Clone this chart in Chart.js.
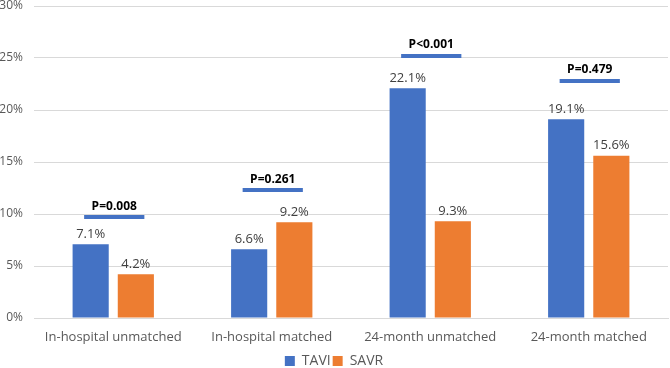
<!DOCTYPE html>
<html lang="en">
<head>
    <meta charset="UTF-8">
    <title>TAVI vs SAVR</title>
    <style>
        html, body {
            margin: 0;
            padding: 0;
            background: #fff;
        }

        .chart-container {
            width: 670px;
            height: 368px;
        }
    </style>
</head>
<body>
    <div class="chart-container">
        <canvas id="myChart"></canvas>
    </div>

    <script src="https://cdn.jsdelivr.net/npm/chart.js"></script>
    <script>
        // chart data
        const categories = ['In-hospital unmatched', 'In-hospital matched', '24-month unmatched', '24-month matched'];
        const taviValues = [7.1, 6.6, 22.1, 19.1];
        const savrValues = [4.2, 9.2, 9.3, 15.6];
        const pTexts = ['P=0.008', 'P=0.261', 'P<0.001', 'P=0.479'];
        const pLevels = [9.7, 12.3, 25.2, 22.8];   // height of the p-value bar, in %
        const yTicks = [0, 5, 10, 15, 20, 25, 30];

        const fontName = "'Open Sans', 'Liberation Sans', sans-serif";

        // value labels above each bar
        const valueLabels = {
            id: 'valueLabels',
            afterDatasetsDraw(chart) {
                const ctx = chart.ctx;
                ctx.save();
                ctx.font = '13px ' + fontName;
                ctx.fillStyle = '#404040';
                ctx.textAlign = 'center';
                ctx.textBaseline = 'middle';
                chart.data.datasets.forEach((ds, i) => {
                    chart.getDatasetMeta(i).data.forEach((bar, j) => {
                        ctx.fillText(ds.data[j].toFixed(1) + '%', bar.x, bar.y - 10);
                    });
                });
                ctx.restore();
            }
        };

        // p-value markers above each group
        const pMarkers = {
            id: 'pMarkers',
            afterDatasetsDraw(chart) {
                const ctx = chart.ctx;
                const xScale = chart.scales.x;
                const yScale = chart.scales.y;
                const half = xScale.width / categories.length * 0.19;
                ctx.save();
                pLevels.forEach((level, i) => {
                    const x = xScale.getPixelForValue(i) + 1;
                    const y = yScale.getPixelForValue(level);
                    ctx.strokeStyle = '#4472C4';
                    ctx.lineWidth = 4;
                    ctx.beginPath();
                    ctx.moveTo(x - half, y);
                    ctx.lineTo(x + half, y);
                    ctx.stroke();
                    ctx.font = 'bold 12px ' + fontName;
                    ctx.fillStyle = '#000';
                    ctx.textAlign = 'center';
                    ctx.textBaseline = 'middle';
                    ctx.fillText(pTexts[i], x, y - 11);
                });
                ctx.restore();
            }
        };

        const ctx = document.getElementById('myChart');
        let myChart = new Chart(ctx, {
            type: 'bar',
            data: {
                labels: categories,
                datasets: [{
                    label: 'TAVI',
                    data: taviValues,
                    backgroundColor: '#4472C4',
                    categoryPercentage: 0.57,
                    barPercentage: 0.8
                }, {
                    label: 'SAVR',
                    data: savrValues,
                    backgroundColor: '#ED7D31',
                    categoryPercentage: 0.57,
                    barPercentage: 0.8
                }]
            },
            options: {
                responsive: true,
                maintainAspectRatio: false,
                animation: false,
                layout: {
                    autoPadding: false,
                    padding: { top: 6, right: 2, bottom: -10, left: 0 }
                },
                scales: {
                    x: {
                        afterFit(axis) {
                            axis.height = 34;
                            axis.paddingTop = 0;
                            axis.paddingBottom = 0;
                        },
                        grid: { display: false, drawTicks: false },
                        border: { display: true, color: '#d9d9d9' },
                        ticks: {
                            color: '#595959',
                            font: { family: fontName, size: 13 },
                            padding: 11,
                            maxRotation: 0
                        }
                    },
                    y: {
                        min: 0,
                        max: 30,
                        afterBuildTicks(axis) {
                            axis.ticks = yTicks.map(v => ({ value: v }));
                        },
                        afterFit(axis) {
                            axis.width = 34;
                            axis.paddingTop = 0;
                            axis.paddingBottom = 0;
                        },
                        grid: { color: '#d9d9d9', drawTicks: false },
                        border: { display: false },
                        ticks: {
                            color: '#595959',
                            font: { family: fontName, size: 12 },
                            padding: 11,
                            callback: (v) => v + '%'
                        }
                    }
                },
                plugins: {
                    legend: {
                        position: 'bottom',
                        labels: {
                            boxWidth: 10,
                            boxHeight: 10,
                            padding: 2,
                            color: '#595959',
                            font: { family: fontName, size: 14 }
                        }
                    },
                    tooltip: { enabled: false }
                }
            },
            plugins: [valueLabels, pMarkers]
        });
    </script>
</body>
</html>
